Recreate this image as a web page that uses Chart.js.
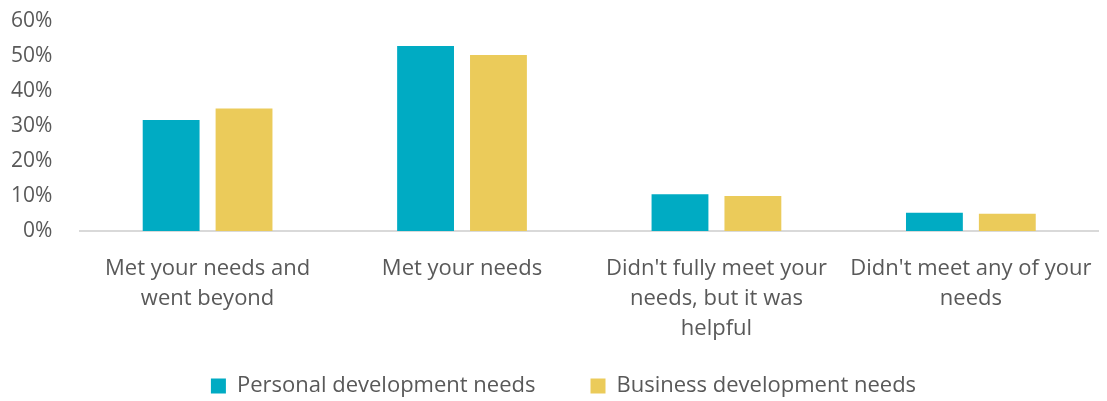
<!DOCTYPE html>
<html>
<head>
<meta charset="utf-8">
<script src="https://cdn.jsdelivr.net/npm/chart.js@4/dist/chart.umd.min.js"></script>
<style>
  body { margin: 0; background: #fff; }
  #wrap { width: 1107px; height: 401px; }
</style>
</head>
<body>
<div id="wrap"><canvas id="chart"></canvas></div>
<script>
// survey answers, two series per answer
const categories = [
    ["Met your needs and", "went beyond"],
    ["Met your needs"],
    ["Didn't fully meet your", "needs, but it was", "helpful"],
    ["Didn't meet any of your", "needs"]
];
const personalNeeds = [31.7, 52.9, 10.5, 5.2];
const businessNeeds = [35.0, 50.3, 10.0, 4.9];
const seriesNames = ["Personal development needs", "Business development needs"];

const textColor = "#595959";
const fontFamily = "'Open Sans', 'Noto Sans', sans-serif";

// legend sits a little right of the canvas centre
const legendShift = {
    id: "legendShift",
    afterLayout(chart) {
        chart.legend.left += 17;
        chart.legend.right += 17;
    }
};

new Chart(document.getElementById("chart"), {
    type: "bar",
    data: {
        labels: categories,
        datasets: [
            {
                label: seriesNames[0],
                data: personalNeeds,
                backgroundColor: "#00abc3",
                barPercentage: 0.78,
                categoryPercentage: 0.573
            },
            {
                label: seriesNames[1],
                data: businessNeeds,
                backgroundColor: "#ebcb5a",
                barPercentage: 0.78,
                categoryPercentage: 0.573
            }
        ]
    },
    plugins: [legendShift],
    options: {
        responsive: true,
        maintainAspectRatio: false,
        animation: false,
        layout: { padding: { left: -9, right: 5, top: 0, bottom: -6 } },
        plugins: {
            tooltip: { enabled: false },
            legend: {
                position: "bottom",
                labels: {
                    color: textColor,
                    boxWidth: 15,
                    boxHeight: 15,
                    padding: 0,
                    font: { family: fontFamily, size: 22 },
                    // wider gap after the first entry without extra vertical padding
                    generateLabels(chart) {
                        const items = Chart.defaults.plugins.legend.labels.generateLabels(chart);
                        items.forEach((it, i) => {
                            if (i < items.length - 1) it.text += "\u2003\u2003\u2002";
                        });
                        return items;
                    }
                }
            }
        },
        scales: {
            x: {
                grid: { display: false },
                border: { color: "#d9d9d9", width: 2 },
                afterFit(scale) { scale.height += 16; },
                ticks: {
                    color: textColor,
                    maxRotation: 0,
                    padding: 15,
                    font: { family: fontFamily, size: 22, lineHeight: 30 / 22 }
                }
            },
            y: {
                min: 0,
                max: 60,
                grid: { display: false },
                border: { display: false },
                ticks: {
                    stepSize: 10,
                    autoSkip: false,
                    color: textColor,
                    padding: 20,
                    // tiny line height keeps the top tick close to the canvas edge
                    font: { family: fontFamily, size: 21, lineHeight: 0.1 },
                    callback: v => v + "%"
                }
            }
        }
    }
});
</script>
</body>
</html>
